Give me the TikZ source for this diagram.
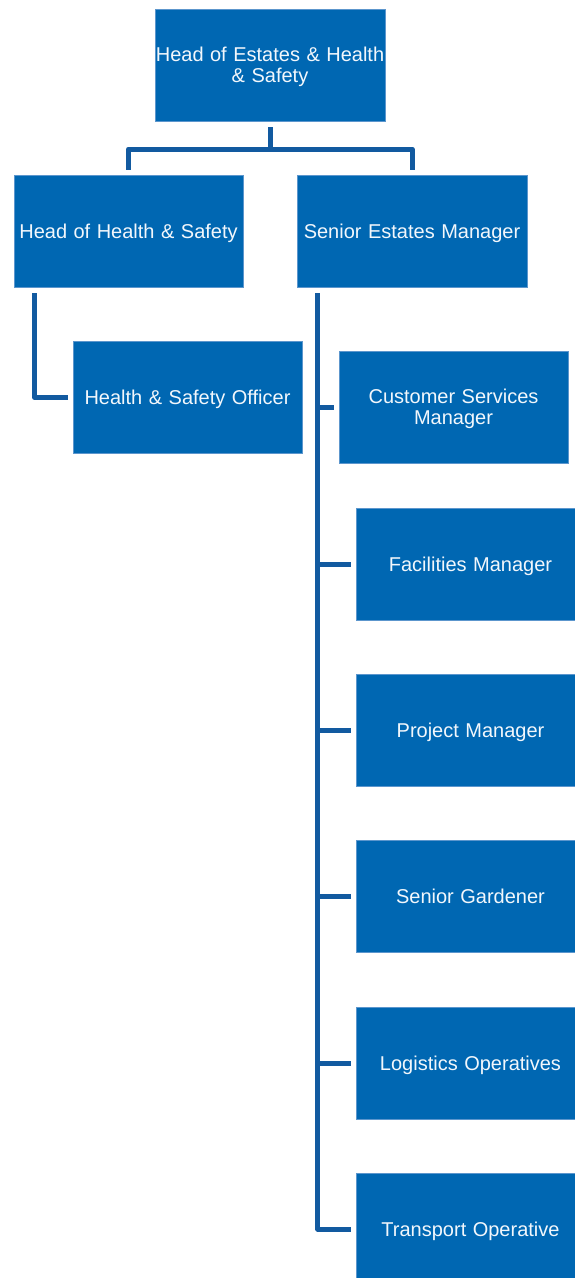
\documentclass[tikz,border=0pt]{standalone}
\usepackage{fontspec}
\setmainfont{Liberation Sans}
\definecolor{boxblue}{RGB}{0,103,178}
\definecolor{boxedge}{RGB}{92,150,205}
\definecolor{linkblue}{RGB}{18,90,160}
\definecolor{labelwhite}{RGB}{242,247,252}
\newcommand\rolefont{\fontsize{20}{21}\selectfont\spaceskip=6.5pt plus 1pt\relax}
\tikzset{
  role/.style={rectangle, fill=boxblue, draw=boxedge, line width=0.6pt,
    minimum width=229pt, minimum height=112pt, inner sep=0pt,
    align=center, text=labelwhite, text depth=0pt, font=\rolefont},
  conn/.style={draw=linkblue, line width=5pt, line join=round, line cap=butt},
}
\begin{document}
\begin{tikzpicture}[x=1pt, y=-1pt]
  \useasboundingbox (0,0) rectangle (575,1278);
  \clip (0,0) rectangle (575,1278);

  % top level
  \node[role, minimum width=230pt] (top) at (270,65) {Head of Estates \& Health\\\& Safety};

  % second level
  \node[role] (hhs) at (128.5,231) {Head of Health \& Safety};
  \node[role, minimum width=230pt] (sem) at (412,231) {Senior Estates Manager};

  % health and safety branch
  \node[role] (hso) at (187.5,397.5) {Health \& Safety Officer};

  % estates branch
  \node[role] (csm) at (453.5,407) {Customer Services\\Manager};
  \node[role] (fm)  at (470.5,564) {Facilities Manager};
  \node[role] (pm)  at (470.5,730.5) {Project Manager};
  \node[role] (sg)  at (470.5,896) {Senior Gardener};
  \node[role] (lo)  at (470.5,1063) {Logistics Operatives};
  \node[role] (to)  at (470.5,1229) {Transport Operative};

  % connectors from the top box
  \coordinate (bus) at (270,149);
  \draw[conn, shorten <=6pt] (top.south) -- (bus);
  \draw[conn, shorten <=5pt, shorten >=5pt] (hhs.north) |- (bus) -| (sem.north);

  % health and safety line
  \draw[conn, shorten <=6pt, shorten >=5pt] ([xshift=21pt]hhs.south west) |- (hso.west);

  % estates trunk and ticks
  \coordinate (trunk) at ([xshift=21pt]sem.south west);
  \draw[conn, shorten <=6pt, shorten >=5pt] (trunk) |- (to.west);
  \foreach \n in {csm,fm,pm,sg,lo}
    \draw[conn, shorten >=5pt] (trunk |- \n.west) -- (\n.west);
\end{tikzpicture}
\end{document}
